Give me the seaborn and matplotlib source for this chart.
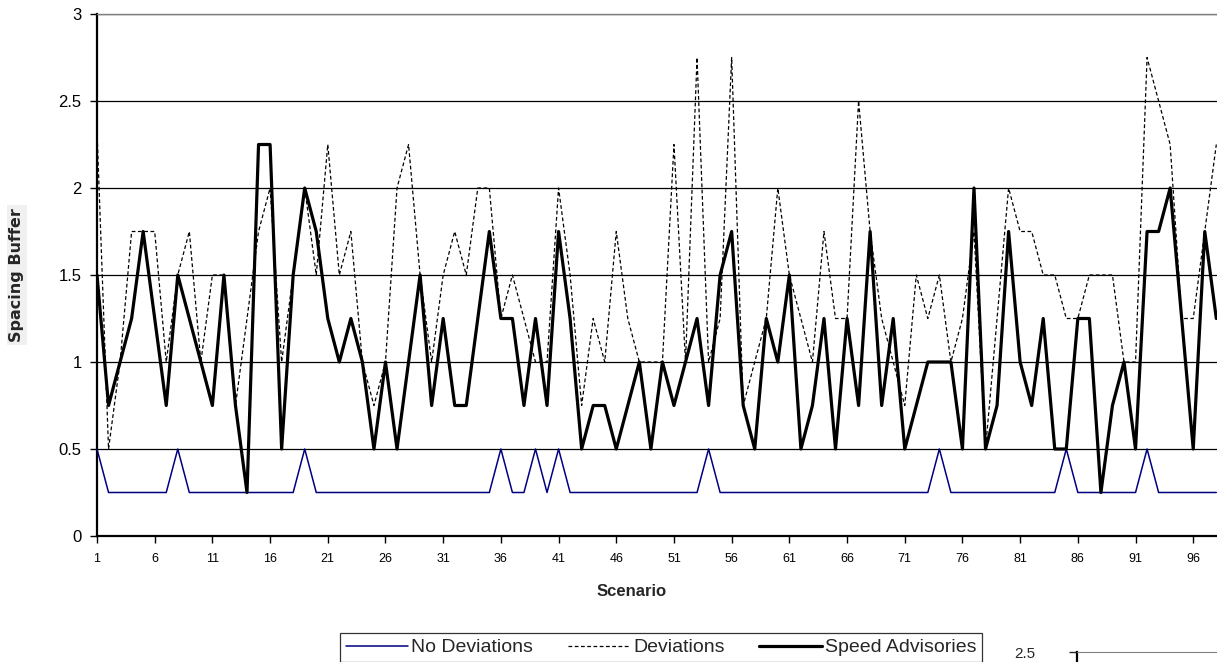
import numpy as np
import pandas as pd
import seaborn as sns
import matplotlib.pyplot as plt
from matplotlib.ticker import FuncFormatter

# === Data ===
scenario = list(range(1, 99))

# baseline: 0.25 everywhere except a handful of scenarios at 0.5
no_dev_peaks = [1, 8, 19, 36, 39, 41, 54, 74, 85, 92]
no_deviations = [0.5 if s in no_dev_peaks else 0.25 for s in scenario]

deviations = [
    2.33, 0.5, 1.0, 1.75, 1.75, 1.75, 1.0, 1.5, 1.75, 1.0,
    1.5, 1.5, 0.75, 1.25, 1.75, 2.0, 1.0, 1.5, 2.0, 1.5,
    2.25, 1.5, 1.75, 1.0, 0.75, 1.0, 2.0, 2.25, 1.5, 1.0,
    1.5, 1.75, 1.5, 2.0, 2.0, 1.25, 1.5, 1.25, 1.0, 1.0,
    2.0, 1.5, 0.75, 1.25, 1.0, 1.75, 1.25, 1.0, 1.0, 1.0,
    2.25, 1.0, 2.75, 1.0, 1.25, 2.75, 0.75, 1.0, 1.25, 2.0,
    1.5, 1.25, 1.0, 1.75, 1.25, 1.25, 2.5, 1.75, 1.25, 1.0,
    0.75, 1.5, 1.25, 1.5, 1.0, 1.25, 1.75, 0.5, 1.25, 2.0,
    1.75, 1.75, 1.5, 1.5, 1.25, 1.25, 1.5, 1.5, 1.5, 1.0,
    1.0, 2.75, 2.5, 2.25, 1.25, 1.25, 1.75, 2.25,
]

speed_advisories = [
    1.5, 0.75, 1.0, 1.25, 1.75, 1.25, 0.75, 1.5, 1.25, 1.0,
    0.75, 1.5, 0.75, 0.25, 2.25, 2.25, 0.5, 1.5, 2.0, 1.75,
    1.25, 1.0, 1.25, 1.0, 0.5, 1.0, 0.5, 1.0, 1.5, 0.75,
    1.25, 0.75, 0.75, 1.25, 1.75, 1.25, 1.25, 0.75, 1.25, 0.75,
    1.75, 1.25, 0.5, 0.75, 0.75, 0.5, 0.75, 1.0, 0.5, 1.0,
    0.75, 1.0, 1.25, 0.75, 1.5, 1.75, 0.75, 0.5, 1.25, 1.0,
    1.5, 0.5, 0.75, 1.25, 0.5, 1.25, 0.75, 1.75, 0.75, 1.25,
    0.5, 0.75, 1.0, 1.0, 1.0, 0.5, 2.0, 0.5, 0.75, 1.75,
    1.0, 0.75, 1.25, 0.5, 0.5, 1.25, 1.25, 0.25, 0.75, 1.0,
    0.5, 1.75, 1.75, 2.0, 1.25, 0.5, 1.75, 1.25,
]

df = pd.DataFrame({
    "Scenario": scenario,
    "No Deviations": no_deviations,
    "Deviations": deviations,
    "Speed Advisories": speed_advisories,
})

# === Style ===
sns.set_style("white")
plt.rcParams["font.family"] = ["Liberation Sans", "DejaVu Sans"]

fig = plt.figure(figsize=(12.17, 6.62), dpi=100)
ax = fig.add_axes([97 / 1217, 126 / 662, 1120 / 1217, 522 / 662])

sns.lineplot(data=df, x="Scenario", y="No Deviations", ax=ax, color="#000080",
             linewidth=1.1, label="No Deviations", zorder=3)
sns.lineplot(data=df, x="Scenario", y="Deviations", ax=ax, color="black",
             linewidth=0.9, linestyle=(0, (3, 2)), label="Deviations", zorder=4)
sns.lineplot(data=df, x="Scenario", y="Speed Advisories", ax=ax, color="black",
             linewidth=2.3, label="Speed Advisories", zorder=5)

# === Axes ===
ax.set_xlim(1, 98.06)
ax.set_ylim(0, 3)
ax.set_xticks(range(1, 99, 5))
ax.set_yticks(np.arange(0, 3.01, 0.5))
ax.yaxis.set_major_formatter(FuncFormatter(lambda v, p: f"{v:g}"))
ax.tick_params(axis="x", labelsize=9, length=5, width=1, direction="out",
               bottom=True, pad=7, colors="black")
ax.tick_params(axis="y", labelsize=12, length=5, width=1, direction="out",
               left=True, pad=6, colors="black")

ax.yaxis.grid(True, color="black", linewidth=0.9)
ax.set_axisbelow(True)
for side in ["left", "bottom"]:
    ax.spines[side].set_color("black")
    ax.spines[side].set_linewidth(1.6)
ax.spines["top"].set_color("#808080")
ax.spines["top"].set_linewidth(1.0)
ax.spines["right"].set_visible(False)

ax.set_xlabel("Scenario", fontsize=12, fontweight="bold")
ax.xaxis.set_label_coords((632 - 97) / 1120, -(592 - 536) / 522)
ax.xaxis.label.set_va("center")
ax.set_ylabel("")
fig.text(17 / 1217, 1 - 275 / 662, "Spacing Buffer", rotation=90,
         ha="center", va="center", fontsize=11.5, fontweight="bold",
         family="DejaVu Sans",
         bbox=dict(facecolor="#f0f0f0", edgecolor="none", pad=2))

# legend along the bottom edge
handles, labels = ax.get_legend_handles_labels()
ax.get_legend().remove()
leg = fig.legend(handles, labels, loc="upper left", ncol=3,
                 bbox_to_anchor=(340 / 1217, 29 / 662), fontsize=14,
                 frameon=True, fancybox=False, handlelength=3.2,
                 handletextpad=0.15, columnspacing=1.8, borderpad=0.3,
                 borderaxespad=0)
leg.get_frame().set_edgecolor("black")
leg.get_frame().set_linewidth(0.9)

# edge of the next chart peeking in at the bottom right
ax2 = fig.add_axes([1077 / 1217, -0.5, 140 / 1217, 0.5 + 10 / 662])
ax2.set_xlim(0, 1)
ax2.set_ylim(0, 2.5)
ax2.set_xticks([])
ax2.set_yticks([2.5])
ax2.yaxis.set_major_formatter(FuncFormatter(lambda v, p: f"{v:g}"))
ax2.tick_params(axis="y", labelsize=11, length=6, width=1, left=True, pad=24)
ax2.spines["left"].set_color("black")
ax2.spines["left"].set_linewidth(1.6)
ax2.spines["top"].set_color("#808080")
ax2.spines["right"].set_visible(False)
ax2.spines["bottom"].set_visible(False)

fig.savefig("out.png", dpi=100)
